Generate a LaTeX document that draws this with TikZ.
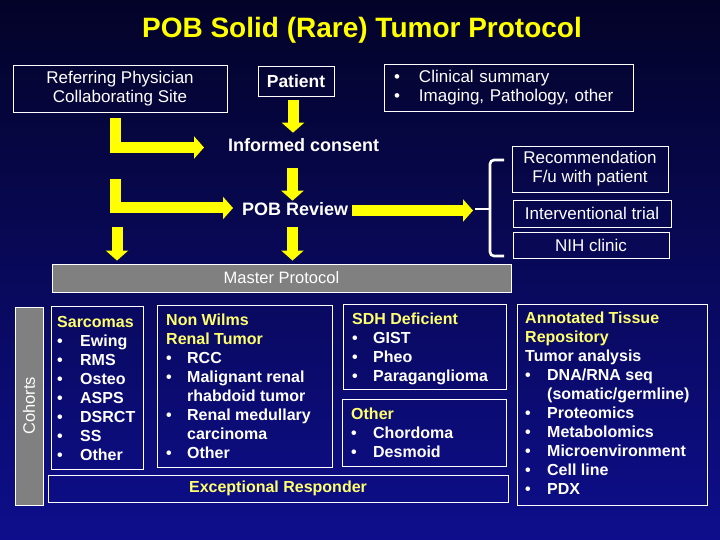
\documentclass[tikz,border=0pt]{standalone}
\usepackage{fontspec}
\setmainfont{Liberation Sans}
\usepackage{xcolor}
\usepackage{tikz}
\usetikzlibrary{arrows.meta,positioning}
\definecolor{fundoA}{RGB}{3,3,40}
\definecolor{fundoB}{RGB}{14,14,140}
\definecolor{amarelo}{RGB}{255,255,0}
\definecolor{amareloC}{RGB}{255,255,110}
\definecolor{cinza}{RGB}{128,128,128}
\tikzset{
  caixa/.style={rectangle,draw=white,line width=0.9pt,text=white,inner sep=0pt,align=center},
  titulo/.style={font=\fontsize{28}{32}\selectfont\bfseries,text=amarelo,inner sep=0pt},
  rotulo/.style={font=\fontsize{18}{20}\selectfont\bfseries,text=white,inner sep=0pt},
  lista/.style={font=\fontsize{16}{19}\selectfont\bfseries,text=white,align=left,inner sep=0pt,anchor=north west},
  seta/.style={draw=amarelo,line width=11pt,line join=miter,-{Triangle[length=10pt,width=22pt]}},
  chave/.style={draw=white,line width=2.6pt,rounded corners=4pt},
}
\newcommand{\bul}[1]{\makebox[#1][l]{\textbullet}}
\newcommand{\destaque}[1]{\textcolor{amareloC}{#1}}

\begin{document}
\begin{tikzpicture}[x=1pt,y=-1pt]
\useasboundingbox (0,0) rectangle (720,540);
\shade[top color=fundoA,bottom color=fundoB] (0,0) rectangle (720,540);
% titulo
\node[titulo] (tit) at (362,30) {POB Solid (Rare) Tumor Protocol};
% linha de cima
\node[caixa,font=\fontsize{17}{19}\selectfont,minimum width=214pt,minimum height=47pt] (ref) at (120,88.5) {Referring Physician\\Collaborating Site};
\node[caixa,font=\fontsize{17.5}{19}\selectfont\bfseries,minimum width=76pt,minimum height=30pt] (pac) at (296,81) {Patient};
\node[caixa,font=\fontsize{17}{19}\selectfont,align=left,text width=229pt,inner xsep=10pt,minimum height=47pt] (cli) at (508.5,87.5) {\bul{25pt}Clinical summary\\\bul{25pt}Imaging, Pathology, other};
% fluxo central
\node[rotulo,anchor=west] (tcle) at (228,145) {Informed consent};
\node[rotulo,anchor=west] (rev) at (242,209) {POB Review};
\coordinate (eixo) at (292.5,0);
\coordinate (l2) at (115.5,179);
\coordinate (l3) at (117,227);
\coordinate (ch) at (490,209);
\draw[seta,shorten <=6pt,shorten >=12pt] ([xshift=-4.5pt]ref.south) |- ([xshift=-12pt,yshift=-2.5pt]tcle.west);
\draw[seta,shorten <=4pt,shorten >=5.5pt] ([xshift=-3pt]pac.south) -- ([xshift=-3pt]pac.south |- tcle.north);
\draw[seta] (l2) |- ([xshift=-9pt,yshift=1pt]rev.west);
\draw[seta,shorten <=16pt,shorten >=1.5pt] (eixo |- tcle.south) -- (eixo |- rev.north);
% master protocol
\node[caixa,fill=cinza,font=\fontsize{16.5}{19}\selectfont,minimum width=459pt,minimum height=28pt] (mas) at (281.5,278) {Master Protocol};
\draw[seta,shorten >=3pt] (l3) -- (l3 |- mas.north);
\draw[seta,shorten <=11.5pt,shorten >=3pt] (eixo |- rev.south) -- (eixo |- mas.north);
% encaminhamentos
\node[caixa,font=\fontsize{17}{19}\selectfont,minimum width=156pt,minimum height=46pt] (rec) at (590,169) {Recommendation\\F/u with patient};
\node[caixa,font=\fontsize{17}{19}\selectfont,minimum width=158pt,minimum height=27pt] (int) at (592,213.5) {Interventional trial};
\node[caixa,font=\fontsize{17}{19}\selectfont,minimum width=156pt,minimum height=26pt] (nih) at (591,245) {NIH clinic};
\draw[seta,shorten <=4pt,shorten >=17pt] ([yshift=-1.5pt]rev.east) -- ([yshift=-1.5pt]rev.east -| ch);
\draw[chave] (504,160) -- (490,160) -- (490,256) -- (504,256);
\draw[chave] (ch) -- ++(-15,0);
% coortes
\node[caixa,fill=cinza,rotate=90,font=\fontsize{16.5}{19}\selectfont,minimum width=198pt,minimum height=28pt] (coh) at (29,406) {Cohorts};
\node[caixa,anchor=north west,minimum width=92pt,minimum height=163pt] (sar) at (51,306) {};
\node[lista] (tsar) at ([shift={(6,7.5)}]sar.north west) {\strut\destaque{Sarcomas}\\\bul{23pt}Ewing\\\bul{23pt}RMS\\\bul{23pt}Osteo\\\bul{23pt}ASPS\\\bul{23pt}DSRCT\\\bul{23pt}SS\\\bul{23pt}Other};
\node[caixa,anchor=north west,minimum width=175pt,minimum height=162pt] (nw) at (157,305) {};
\node[lista] (tnw) at ([shift={(9,6.5)}]nw.north west) {\strut\destaque{Non Wilms}\\\destaque{Renal Tumor}\\\bul{21pt}RCC\\\bul{21pt}Malignant renal\\\hspace*{21pt}rhabdoid tumor\\\bul{21pt}Renal medullary\\\hspace*{21pt}carcinoma\\\bul{21pt}Other};
\node[caixa,anchor=north west,minimum width=163pt,minimum height=85pt] (sdh) at (343,304) {};
\node[lista] (tsdh) at ([shift={(9,6.5)}]sdh.north west) {\strut\destaque{SDH Deficient}\\\bul{21pt}GIST\\\bul{21pt}Pheo\\\bul{21pt}Paraganglioma};
\node[caixa,anchor=north west,minimum width=164pt,minimum height=67pt] (out) at (342,399) {};
\node[lista] (tout) at ([shift={(9,6.5)}]out.north west) {\strut\destaque{Other}\\\bul{22pt}Chordoma\\\bul{22pt}Desmoid};
\node[caixa,text=amareloC,font=\fontsize{16}{19}\selectfont\bfseries,minimum width=460pt,minimum height=27pt] (exc) at (278,488.5) {Exceptional Responder};
% repositorio
\node[caixa,anchor=north west,minimum width=190pt,minimum height=201pt] (rep) at (517,304) {};
\node[lista] (trep) at ([shift={(8,5.5)}]rep.north west) {\strut\destaque{Annotated Tissue}\\\destaque{Repository}\\Tumor analysis\\\bul{22pt}DNA/RNA seq\\\hspace*{22pt}(somatic/germline)\\\bul{22pt}Proteomics\\\bul{22pt}Metabolomics\\\bul{22pt}Microenvironment\\\bul{22pt}Cell line\\\bul{22pt}PDX};
\end{tikzpicture}
\end{document}
